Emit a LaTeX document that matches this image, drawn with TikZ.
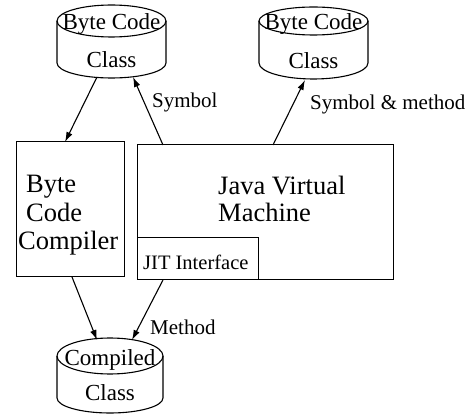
\documentclass[tikz,border=0pt]{standalone}
\usepackage{fontspec}
\setmainfont{Liberation Serif}
\usetikzlibrary{arrows.meta}

\tikzset{
  flow/.style={line width=1.1pt, -{Latex[length=10pt,width=6.5pt]}},
  box/.style={draw, line width=1.1pt, inner sep=0pt, anchor=south west},
  boxtext/.style={inner sep=0pt, anchor=base west, font=\fontsize{26.5}{30}\selectfont},
  cyltext/.style={inner sep=0pt, anchor=base, font=\fontsize{23}{26}\selectfont},
  lbl/.style={inner sep=0pt, anchor=base west, font=\fontsize{21}{24}\selectfont},
}

\begin{document}
\begin{tikzpicture}[x=1pt, y=1pt]
    \useasboundingbox (0,0) rectangle (469,413);

    % byte code class (left)
    \draw[line width=1.1pt] (57,392) -- (57,350) arc[start angle=180, end angle=360, x radius=54.5, y radius=15] -- (166,392);
    \draw[line width=1.1pt] (111.5,392) ellipse[x radius=54.5, y radius=16];
    \node[cyltext] (srcA) at (111.5,383) {Byte Code};
    \node[cyltext] (srcA cls) at (111.5,345) {Class};

    % byte code class (right)
    \draw[line width=1.1pt] (259,392) -- (259,350) arc[start angle=180, end angle=360, x radius=54.5, y radius=16] -- (368,392);
    \draw[line width=1.1pt] (313.5,392) ellipse[x radius=54.5, y radius=14];
    \node[cyltext] (srcB) at (313.5,383) {Byte Code};
    \node[cyltext] (srcB cls) at (313.5,344) {Class};

    % compiled class
    \draw[line width=1.1pt] (57,57) -- (57,15) arc[start angle=180, end angle=360, x radius=53, y radius=15] -- (163,57);
    \draw[line width=1.1pt] (110,57) ellipse[x radius=53, y radius=18];
    \node[cyltext] (bin) at (110,48) {Compiled};
    \node[cyltext] (bin cls) at (110,13) {Class};

    % boxes
    \node[box, minimum width=108pt, minimum height=135pt] (bcc) at (16,136) {};
    \node[boxtext] (bcc1) at (26,220) {Byte};
    \node[boxtext] (bcc2) at (26,191) {Code};
    \node[boxtext] (bcc3) at (18,164) {Compiler};

    \node[box, minimum width=256pt, minimum height=135pt] (jvm) at (137,133) {};
    \node[boxtext] (jvm1) at (218,218) {Java Virtual};
    \node[boxtext] (jvm2) at (218,191) {Machine};

    \node[box, minimum width=121pt, minimum height=42pt] (jit) at (137,133) {};
    \node[lbl, font=\fontsize{20.5}{24}\selectfont] (jit txt) at (143,143) {JIT Interface};

    % connector ends
    \coordinate (srcA out) at (97,336);
    \coordinate (srcA in) at (133,336);
    \coordinate (srcB in) at (305,333);
    \coordinate (bcc in) at (65,271);
    \coordinate (bcc out) at (72,136);
    \coordinate (jvm sym) at (163,268);
    \coordinate (jvm both) at (273,268);
    \coordinate (jvm out) at (163,133);
    \coordinate (bin in1) at (97,73);
    \coordinate (bin in2) at (132,73);

    \draw[flow] (srcA out) -- (bcc in);
    \draw[flow] (jvm sym) -- (srcA in);
    \draw[flow] (jvm both) -- (srcB in);
    \draw[flow] (bcc out) -- (bin in1);
    \draw[flow] (jvm out) -- (bin in2);

    \node[lbl] (sym) at (152,305) {Symbol};
    \node[lbl] (symm) at (310,303) {Symbol \& method};
    \node[lbl] (meth) at (150,78) {Method};
\end{tikzpicture}
\end{document}
